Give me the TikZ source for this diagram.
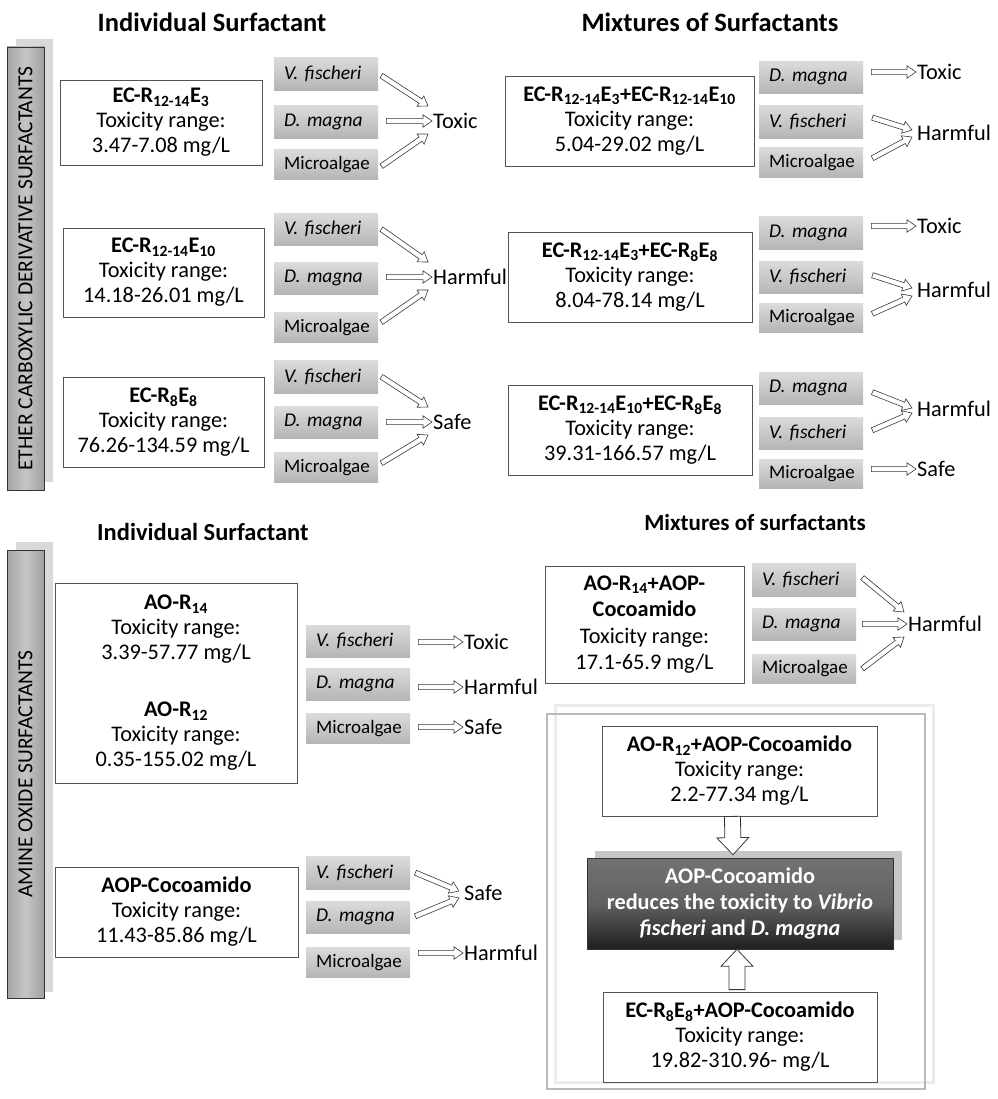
\documentclass[tikz,border=0pt]{standalone}
\usepackage{fontspec}
\setmainfont{Carlito}
\usetikzlibrary{calc}
\newcommand{\sbs}[1]{\textsubscript{#1}}
\begin{document}
\begin{tikzpicture}[x=1pt,y=-1pt,
  txt/.style={font=\fontsize{22.3}{25}\selectfont},
  hdr/.style={font=\fontsize{26.5}{30}\selectfont\bfseries, inner sep=0pt},
  wbox/.style={draw=gray!65!black, line width=0.8pt, fill=white, align=center, txt, inner sep=0pt},
  org/.style={top color=gray!28, bottom color=gray!58, draw=none, inner xsep=10pt, inner ysep=0pt, minimum width=104pt, anchor=north west, text width=84pt, align=left, font=\fontsize{19.5}{22}\selectfont\itshape},
  alg/.style={org, font=\fontsize{19}{20}\selectfont},
  res/.style={txt, anchor=west, inner sep=0pt},
  arrowpoly/.style n args={3}{to path={
    ($(\tikztostart)!#1!90:(\tikztotarget)$) --
    ($(\tikztotarget)!#3!(\tikztostart)!#1!90:(\tikztotarget)$) --
    ($(\tikztotarget)!#3!(\tikztostart)!#2!90:(\tikztotarget)$) --
    (\tikztotarget) --
    ($(\tikztotarget)!#3!(\tikztostart)!#2!-90:(\tikztotarget)$) --
    ($(\tikztotarget)!#3!(\tikztostart)!#1!-90:(\tikztotarget)$) --
    ($(\tikztostart)!#1!-90:(\tikztotarget)$) -- cycle}},
  hol/.style={draw=gray!45!black, fill=white, line width=0.6pt, line join=miter, arrowpoly={2.6pt}{6.2pt}{9pt}},
  blk/.style={draw=gray!45!black, fill=white, line width=0.8pt, line join=miter, arrowpoly={8pt}{16pt}{17pt}},
  bar/.style={draw=gray!40!black, line width=0.6pt, left color=gray!70, right color=gray!75, middle color=gray!45, inner sep=0pt},
  barshadow/.style={fill=gray!30},
  dark/.style={draw=black!80, line width=0.6pt, top color=black!55, bottom color=black!88, middle color=black!62, text=white, font=\fontsize{22.3}{26}\selectfont\bfseries, align=center, inner sep=0pt},
  vtxt/.style={font=\fontsize{21.5}{25}\selectfont, rotate=90, inner sep=0pt},
]
\useasboundingbox (0,0) rectangle (997,1099);
\fill[white] (0,0) rectangle (997,1099);

% headers
\node[hdr] (h1) at (212,22) {Individual Surfactant};
\node[hdr] (h2) at (710,22) {Mixtures of Surfactants};
\node[hdr, font=\fontsize{24.5}{28}\selectfont\bfseries, anchor=west] (h3) at (97,532) {Individual Surfactant};
\node[hdr, font=\fontsize{23}{27}\selectfont\bfseries] (h4) at (755,523) {Mixtures of surfactants};

% side bars
\fill[barshadow] (16,39) rectangle (53,482);
\node[bar, minimum width=37pt, minimum height=443pt] (bar1) at (25.5,268.5) {};
\node[vtxt] at (bar1) {ETHER CARBOXYLIC DERIVATIVE SURFACTANTS};
\fill[barshadow] (16,542) rectangle (53,992);
\node[bar, minimum width=37pt, minimum height=448pt] (bar2) at (25.5,774) {};
\node[vtxt] at (bar2) {AMINE OXIDE SURFACTANTS};

% ---------- top left ----------
\node[wbox, minimum width=202pt, minimum height=85pt] (a1) at (161,122.5) {\textbf{EC-R\sbs{12-14}E\sbs{3}}\\Toxicity range:\\3.47-7.08 mg/L};
\node[wbox, minimum width=201pt, minimum height=89pt] (a2) at (163.5,272.5) {\textbf{EC-R\sbs{12-14}E\sbs{10}}\\Toxicity range:\\14.18-26.01 mg/L};
\node[wbox, minimum width=201pt, minimum height=90pt] (a3) at (163.5,422) {\textbf{EC-R\sbs{8}E\sbs{8}}\\Toxicity range:\\76.26-134.59 mg/L};

\node[org, minimum height=33pt] (vf1) at (274,57) {V. fischeri};
\node[org, minimum height=33pt] (dm1) at (274,105) {D. magna};
\node[alg, minimum height=30pt] (ma1) at (274,149) {Microalgae};
\node[org, minimum height=32pt] (vf2) at (274,213) {V. fischeri};
\node[org, minimum height=32pt] (dm2) at (274,262) {D. magna};
\node[alg, minimum height=30pt] (ma2) at (274,312) {Microalgae};
\node[org, minimum height=33pt] (vf3) at (274,360) {V. fischeri};
\node[org, minimum height=32pt] (dm3) at (274,406) {D. magna};
\node[alg, minimum height=30pt] (ma3) at (274,452) {Microalgae};

\node[res] (r1) at (433,121) {Toxic};
\node[res] (r2) at (433,277) {Harmful};
\node[res] (r3) at (433,422) {Safe};

\draw[hol] ($(vf1.east)+(3,2)$) to ($(r1.west)+(-5,-15)$);
\draw[hol] ([xshift=8pt]r1.west -| dm1.east) to ([xshift=-1pt]r1.west);
\draw[hol] ($(ma1.east)+(3,2)$) to ($(r1.west)+(-5,13)$);
\draw[hol] ($(vf2.east)+(3,0)$) to ($(r2.west)+(-5,-15)$);
\draw[hol] ([xshift=8pt]r2.west -| dm2.east) to ([xshift=-1pt]r2.west);
\draw[hol] ($(ma2.east)+(3,-5)$) to ($(r2.west)+(-5,13)$);
\draw[hol] ($(vf3.east)+(3,0)$) to ($(r3.west)+(-5,-15)$);
\draw[hol] ([xshift=8pt]r3.west -| dm3.east) to ([xshift=-1pt]r3.west);
\draw[hol] ($(ma3.east)+(3,-4)$) to ($(r3.west)+(-5,13)$);

% ---------- top right ----------
\node[wbox, minimum width=249pt, minimum height=90pt] (b1) at (629.5,121) {\textbf{EC-R\sbs{12-14}E\sbs{3}+EC-R\sbs{12-14}E\sbs{10}}\\Toxicity range:\\5.04-29.02 mg/L};
\node[wbox, minimum width=244pt, minimum height=90pt] (b2) at (630,277) {\textbf{EC-R\sbs{12-14}E\sbs{3}+EC-R\sbs{8}E\sbs{8}}\\Toxicity range:\\8.04-78.14 mg/L};
\node[wbox, minimum width=244pt, minimum height=90pt] (b3) at (630,430) {\textbf{EC-R\sbs{12-14}E\sbs{10}+EC-R\sbs{8}E\sbs{8}}\\Toxicity range:\\39.31-166.57 mg/L};

\node[org, minimum height=32pt] (dm4) at (759,61) {D. magna};
\node[org, minimum height=33pt] (vf4) at (759,105) {V. fischeri};
\node[alg, minimum height=30pt] (ma4) at (759,147) {Microalgae};
\node[org, minimum height=33pt] (dm5) at (759,216) {D. magna};
\node[org, minimum height=32pt] (vf5) at (759,261) {V. fischeri};
\node[alg, minimum height=29pt] (ma5) at (759,303) {Microalgae};
\node[org, minimum height=32pt] (dm6) at (759,372) {D. magna};
\node[org, minimum height=32pt] (vf6) at (759,417) {V. fischeri};
\node[alg, minimum height=29pt] (ma6) at (759,459) {Microalgae};

\node[res] (r4) at (917,72) {Toxic};
\node[res] (r5) at (917,133) {Harmful};
\node[res] (r6) at (917,226) {Toxic};
\node[res] (r7) at (917,290) {Harmful};
\node[res] (r8) at (917,409) {Harmful};
\node[res] (r9) at (917,469) {Safe};

\draw[hol] ([xshift=8pt]r4.west -| dm4.east) to ([xshift=-1pt]r4.west);
\draw[hol] ($(vf4.east)+(9,-4)$) to ($(r5.west)+(-5,-3)$);
\draw[hol] ($(ma4.east)+(9,-4)$) to ($(r5.west)+(-5,4)$);
\draw[hol] ([xshift=8pt]r6.west -| dm5.east) to ([xshift=-1pt]r6.west);
\draw[hol] ($(vf5.east)+(9,-2)$) to ($(r7.west)+(-5,-2)$);
\draw[hol] ($(ma5.east)+(9,-4)$) to ($(r7.west)+(-5,6)$);
\draw[hol] ($(dm6.east)+(9,4)$) to ($(r8.west)+(-5,-1)$);
\draw[hol] ($(vf6.east)+(9,-3)$) to ($(r8.west)+(-5,4)$);
\draw[hol] ([xshift=8pt]r9.west -| ma6.east) to ([xshift=-1pt]r9.west);

% ---------- bottom left ----------
\node[wbox, minimum width=242pt, minimum height=200pt] (c1) at (176,683) {\textbf{AO-R\sbs{14}}\\Toxicity range:\\3.39-57.77 mg/L\\[32pt]\textbf{AO-R\sbs{12}}\\Toxicity range:\\0.35-155.02 mg/L};
\node[wbox, minimum width=243pt, minimum height=90pt] (c2) at (176.5,912) {\textbf{AOP-Cocoamido}\\Toxicity range:\\11.43-85.86 mg/L};

\node[org, minimum height=32pt] (vf7) at (306,625) {V. fischeri};
\node[org, minimum height=32pt] (dm7) at (306,668) {D. magna};
\node[alg, minimum height=30pt] (ma7) at (306,713) {Microalgae};
\node[org, minimum height=33pt] (vf8) at (306,856) {V. fischeri};
\node[org, minimum height=32pt] (dm8) at (306,901) {D. magna};
\node[alg, minimum height=30pt] (ma8) at (306,947) {Microalgae};

\node[res] (r10) at (464,642) {Toxic};
\node[res] (r11) at (464,687) {Harmful};
\node[res] (r12) at (464,727) {Safe};
\node[res] (r13) at (464,893) {Safe};
\node[res] (r14) at (464,953) {Harmful};

\draw[hol] ([xshift=8pt]r10.west -| vf7.east) to ([xshift=-1pt]r10.west);
\draw[hol] ([xshift=8pt]r11.west -| dm7.east) to ([xshift=-1pt]r11.west);
\draw[hol] ([xshift=8pt]r12.west -| ma7.east) to ([xshift=-1pt]r12.west);
\draw[hol] ($(vf8.east)+(5,0)$) to ($(r13.west)+(-5,-2)$);
\draw[hol] ($(dm8.east)+(5,-1)$) to ($(r13.west)+(-5,5)$);
\draw[hol] ([xshift=8pt]r14.west -| ma8.east) to ([xshift=-1pt]r14.west);

% ---------- bottom right ----------
\node[wbox, minimum width=199pt, minimum height=117pt, font=\fontsize{22.3}{26.5}\selectfont] (d1) at (644.5,624.5) {\textbf{AO-R\sbs{14}+AOP-}\\\textbf{Cocoamido}\\Toxicity range:\\17.1-65.9 mg/L};

\node[org, minimum height=33pt] (vf9) at (752,563) {V. fischeri};
\node[org, minimum height=32pt] (dm9) at (752,608) {D. magna};
\node[alg, minimum height=29pt] (ma9) at (752,654) {Microalgae};
\node[res] (r15) at (908,624) {Harmful};

\draw[hol] ($(vf9.east)+(6,-2)$) to ($(r15.west)+(-4,-12)$);
\draw[hol] ([xshift=6pt]r15.west -| dm9.east) to ([xshift=-1pt]r15.west);
\draw[hol] ($(ma9.east)+(6,0)$) to ($(r15.west)+(-4,13)$);

% frame
\draw[gray!15, line width=3pt] (555,705) rectangle (933,1082);
\draw[gray!55, line width=2.5pt] (547,714) rectangle (925,1089);

\node[wbox, minimum width=275pt, minimum height=90pt] (d2) at (739.5,771) {\textbf{AO-R\sbs{12}+AOP-Cocoamido}\\Toxicity range:\\2.2-77.34 mg/L};
\fill[gray!45] (595,851) rectangle (902,940);
\node[dark, minimum width=306pt, minimum height=91pt] (d3) at (740,903.5) {AOP-Cocoamido\\reduces the toxicity to \textit{Vibrio}\\\textit{fischeri} and \textit{D. magna}};
\node[wbox, minimum width=274pt, minimum height=90pt] (d4) at (740,1037) {\textbf{EC-R\sbs{8}E\sbs{8}+AOP-Cocoamido}\\Toxicity range:\\19.82-310.96- mg/L};

\draw[blk] ($(d2.south)+(-7,0)$) to ($(d3.north)+(-7,-3)$);
\draw[blk] ($(d4.north)+(-3,-2)$) to ($(d3.south)+(-3,0)$);
\end{tikzpicture}
\end{document}
